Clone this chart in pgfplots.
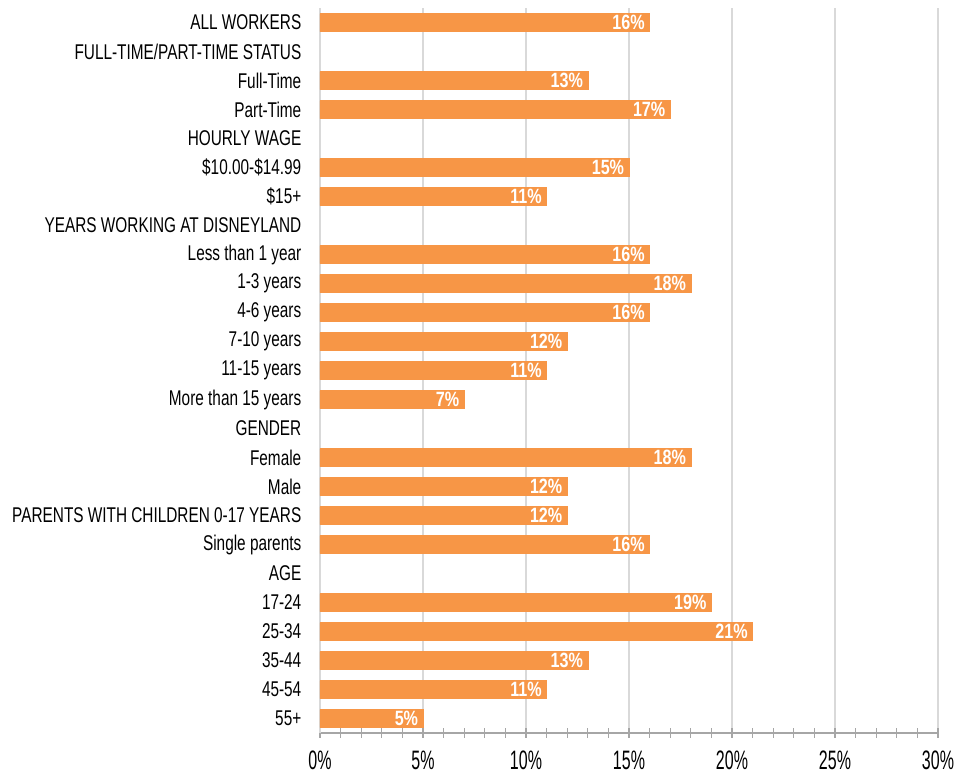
\documentclass[border=0pt]{standalone}
\usepackage{fontspec}
\setmainfont{Liberation Sans}[FakeStretch=0.72]
\newfontfamily\tickfont{Liberation Sans}[FakeStretch=0.6]
\newfontfamily\valfont{Liberation Sans Bold}[FakeStretch=0.78]
\usepackage{pgfplots}
\pgfplotsset{compat=1.18}
\usepackage{pgfplotstable}

\definecolor{barorange}{HTML}{F79646}
\definecolor{gridgrey}{HTML}{D9D9D9}
\definecolor{tickgrey}{HTML}{A6A6A6}

% Share of workers, by group (empty rows are section headings)
\pgfplotstableread[col sep=comma]{
idx,val
0,16
2,13
3,17
5,15
6,11
8,16
9,18
10,16
11,12
12,11
13,7
15,18
16,12
17,12
18,16
20,19
21,21
22,13
23,11
24,5
}\datatable

\begin{document}
\begin{tikzpicture}
\useasboundingbox (-240pt,-30.75pt) rectangle (482.25pt,549.75pt);
\begin{axis}[
  at={(0,0)}, anchor=south west,
  scale only axis,
  width=463.5pt, height=543.75pt,
  xbar,
  bar width=13.5pt,
  xmin=0, xmax=30,
  ymin=-0.5, ymax=24.5,
  y dir=reverse,
  axis x line*=bottom,
  axis y line*=left,
  x axis line style={tickgrey, line width=1pt},
  y axis line style={gridgrey, line width=1pt},
  xtick={0,5,...,30},
  minor xtick={1,2,3,4,6,7,8,9,11,12,13,14,16,17,18,19,21,22,23,24,26,27,28,29},
  tick align=center,
  major tick length=7pt,
  minor tick length=7pt,
  xtick style={tickgrey, line width=1pt},
  minor x tick style={tickgrey, line width=1pt},
  xmajorgrids,
  major grid style={gridgrey, line width=1pt},
  /pgf/number format/assume math mode=true,
  xticklabel={\pgfmathprintnumber{\tick}\%},
  xticklabel style={font=\tickfont\fontsize{20}{22}\selectfont,
    anchor=north, inner sep=0pt, yshift=-10pt},
  ytick={0,...,24},
  yticklabels={
    ALL WORKERS,
    FULL-TIME/PART-TIME STATUS,
    Full-Time,
    Part-Time,
    HOURLY WAGE,
    \$10.00-\$14.99,
    \$15+,
    YEARS WORKING AT DISNEYLAND,
    Less than 1 year,
    1-3 years,
    4-6 years,
    7-10 years,
    11-15 years,
    More than 15 years,
    GENDER,
    Female,
    Male,
    PARENTS WITH CHILDREN 0-17 YEARS,
    Single parents,
    AGE,
    17-24,
    25-34,
    35-44,
    45-54,
    55+},
  ytick style={draw=none},
  yticklabel style={font=\fontsize{16}{18}\selectfont, anchor=east, xshift=-7pt},
  nodes near coords={\pgfmathprintnumber{\pgfplotspointmeta}\%},
  every node near coord/.append style={anchor=east, text=white,
    font=\valfont\fontsize{15.5}{17}\selectfont, inner sep=3.5pt},
]
\addplot[fill=barorange, draw=barorange] table[x=val, y=idx] {\datatable};
\end{axis}
\end{tikzpicture}
\end{document}
